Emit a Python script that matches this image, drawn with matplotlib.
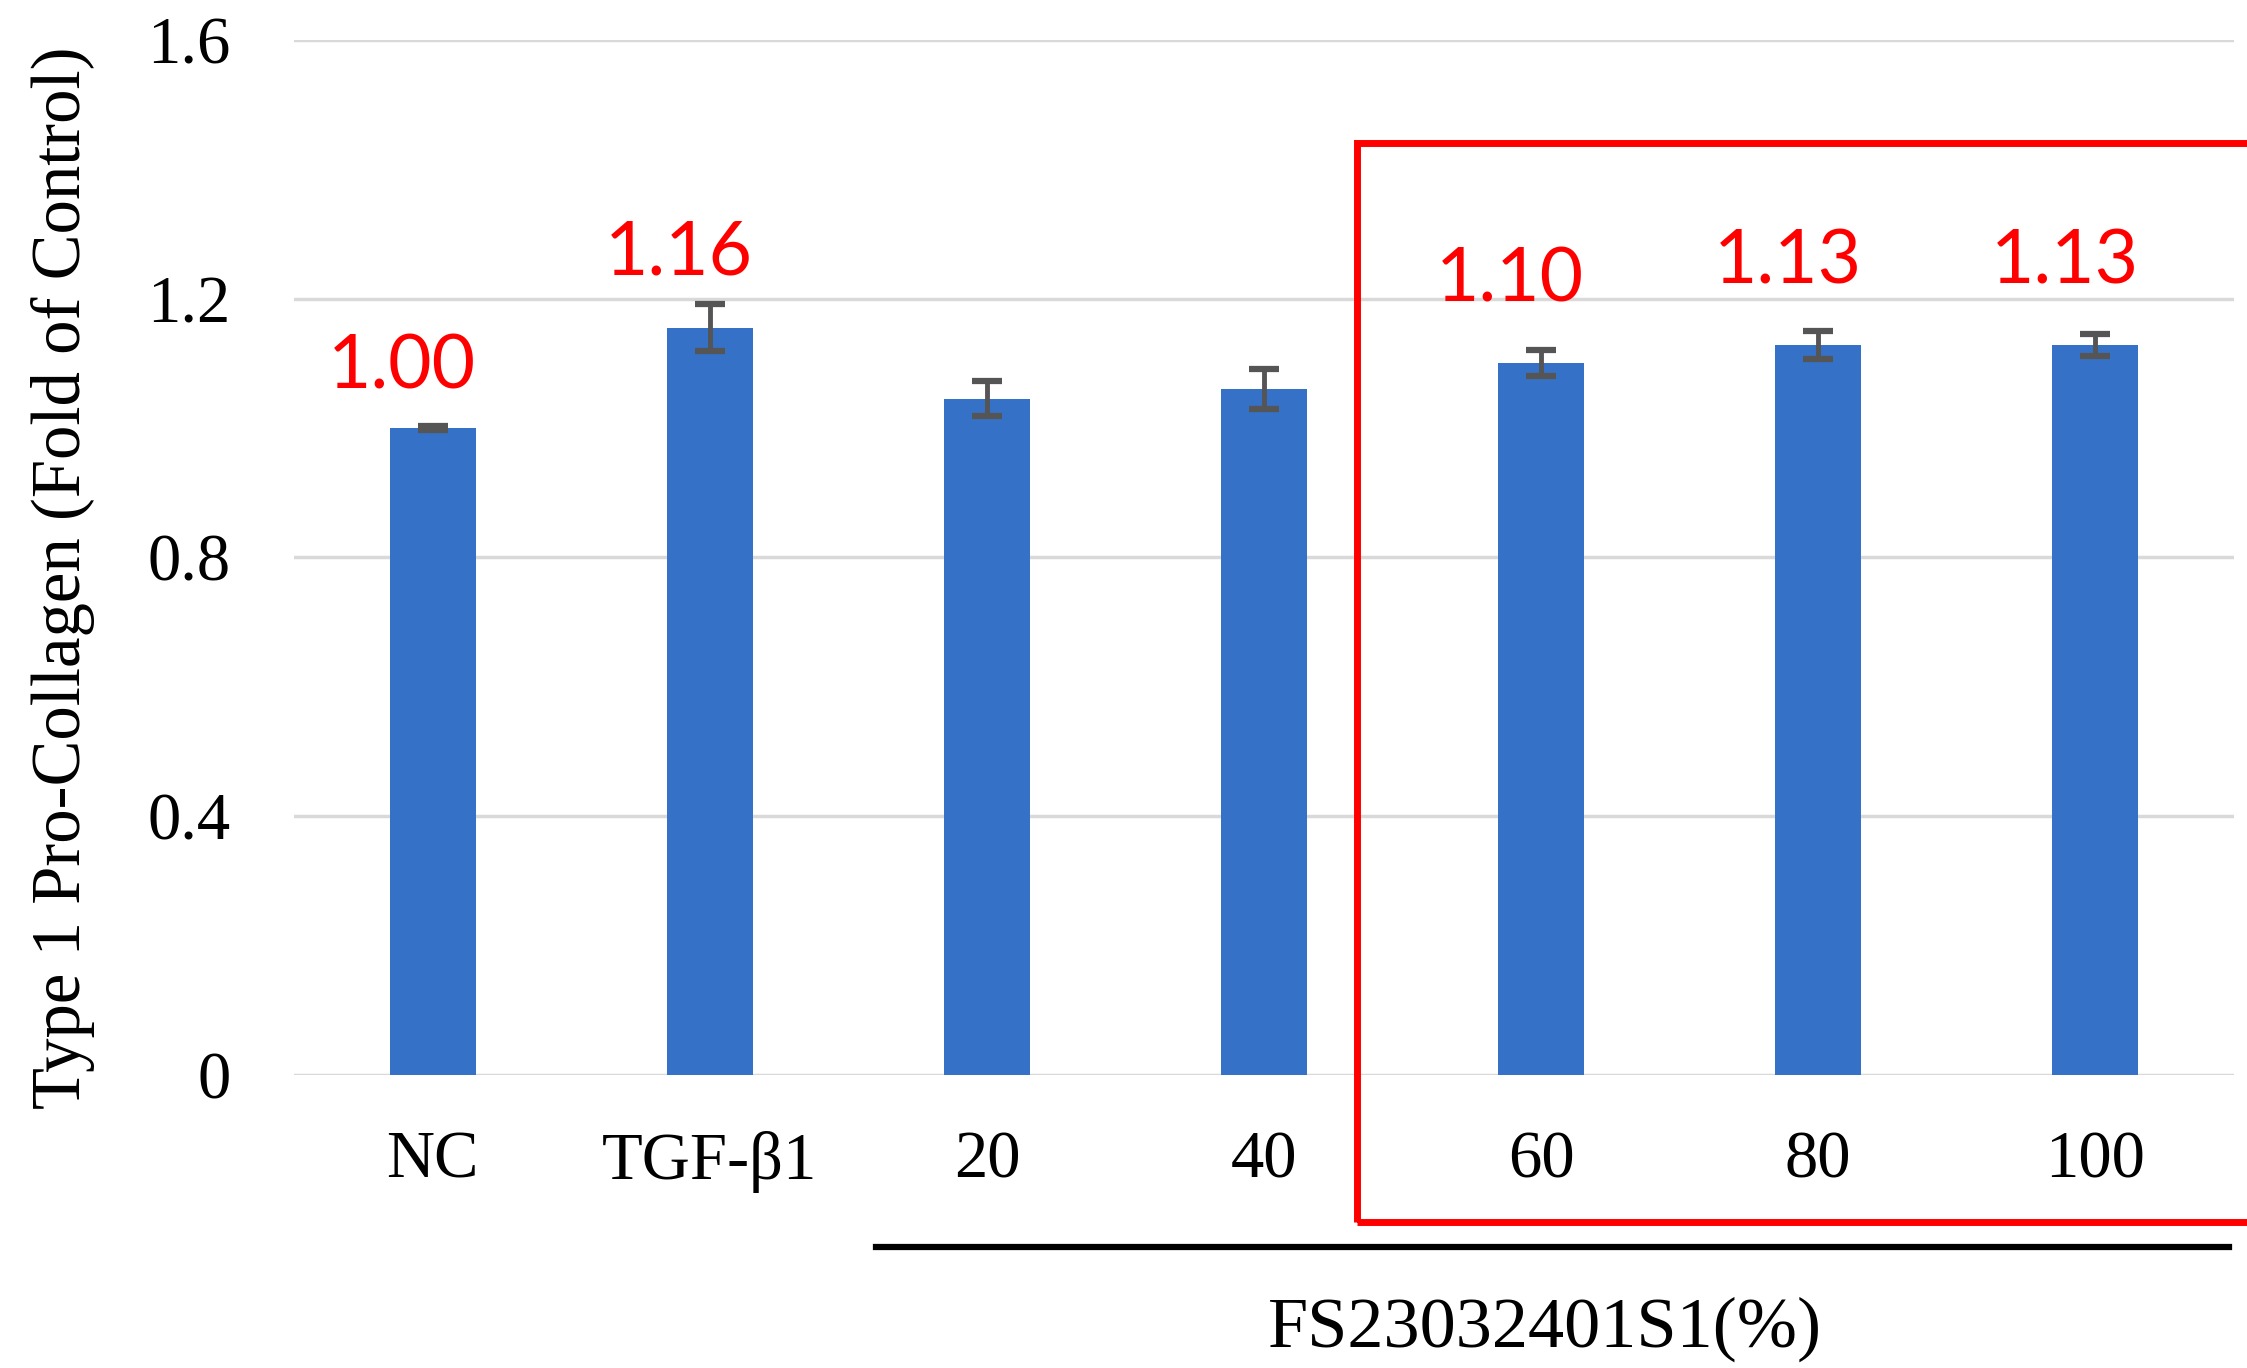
import numpy as np
import matplotlib.pyplot as plt
from matplotlib.patches import Rectangle
from matplotlib.lines import Line2D

###############################################################################
# DATA
###############################################################################

groups = ["NC", "TGF-\u03b21", "20", "40", "60", "80", "100"]
fold = [1.00, 1.155, 1.045, 1.06, 1.10, 1.128, 1.128]
err = [0.003, 0.036, 0.027, 0.031, 0.02, 0.022, 0.017]
labels = ["1.00", "1.16", None, None, "1.10", "1.13", "1.13"]
yticks = [0, 0.4, 0.8, 1.2, 1.6]
ytick_labels = ["0", "0.4", "0.8", "1.2", "1.6"]

ylab = "Type 1 Pro-Collagen (Fold of Control)"
group_lab = "FS23032401S1(%)"

###############################################################################
# FIGURE
###############################################################################

serif = ["Liberation Serif", "DejaVu Serif"]
bar_col = "#3571c6"
grid_col = "#d9d9d9"

fig = plt.figure(figsize=(22.47, 13.68), dpi=100)
ax = fig.add_axes([0.131, 0.214, 0.863, 0.757])

x = np.arange(len(groups))
ax.bar(x, fold, width=0.31, color=bar_col, zorder=3)
ax.errorbar(x, fold, yerr=err, fmt="none", ecolor="#555555",
            elinewidth=3.5, capsize=11, capthick=4.5, zorder=4)

ax.set_xlim(-0.5, 6.5)
ax.set_ylim(0, 1.6)
ax.set_yticks(yticks)
ax.set_yticklabels(ytick_labels, fontfamily=serif, fontsize=48)
ax.set_xticks(x)
ax.set_xticklabels(groups, fontfamily=serif, fontsize=48)
ax.tick_params(axis="both", length=0)
ax.tick_params(axis="y", pad=46)
ax.tick_params(axis="x", pad=40)

ax.grid(axis="y", color=grid_col, linewidth=2.5, zorder=0)
for s in ["top", "right", "left", "bottom"]:
    ax.spines[s].set_visible(False)

# red value labels (offsets in points above the error bar)
lab_off = [18, 12, 0, 0, 26, 25, 27]
for i, t in enumerate(labels):
    if t is None:
        continue
    ax.annotate(t, (x[i], fold[i] + err[i]), xytext=(-22, lab_off[i]),
                textcoords="offset points", ha="center", va="bottom",
                color="red", fontsize=54, fontfamily=["Lato", "DejaVu Sans"])

fig.text(0.028, 0.578, ylab, rotation=90, ha="center", va="center",
         fontfamily=serif, fontsize=49.5)

# highlight box and group line
fig.patches.append(Rectangle((0.604, 0.1067), 0.42, 0.789, fill=False,
                             edgecolor="red", linewidth=5,
                             transform=fig.transFigure, figure=fig))
fig.lines.append(Line2D([0.390, 0.992], [0.0885, 0.0885], color="black",
                        linewidth=4.5, transform=fig.transFigure, figure=fig))
fig.text(0.6875, 0.028, group_lab, ha="center", va="center",
         fontfamily=serif, fontsize=52)

plt.savefig("out.png", dpi=100)
